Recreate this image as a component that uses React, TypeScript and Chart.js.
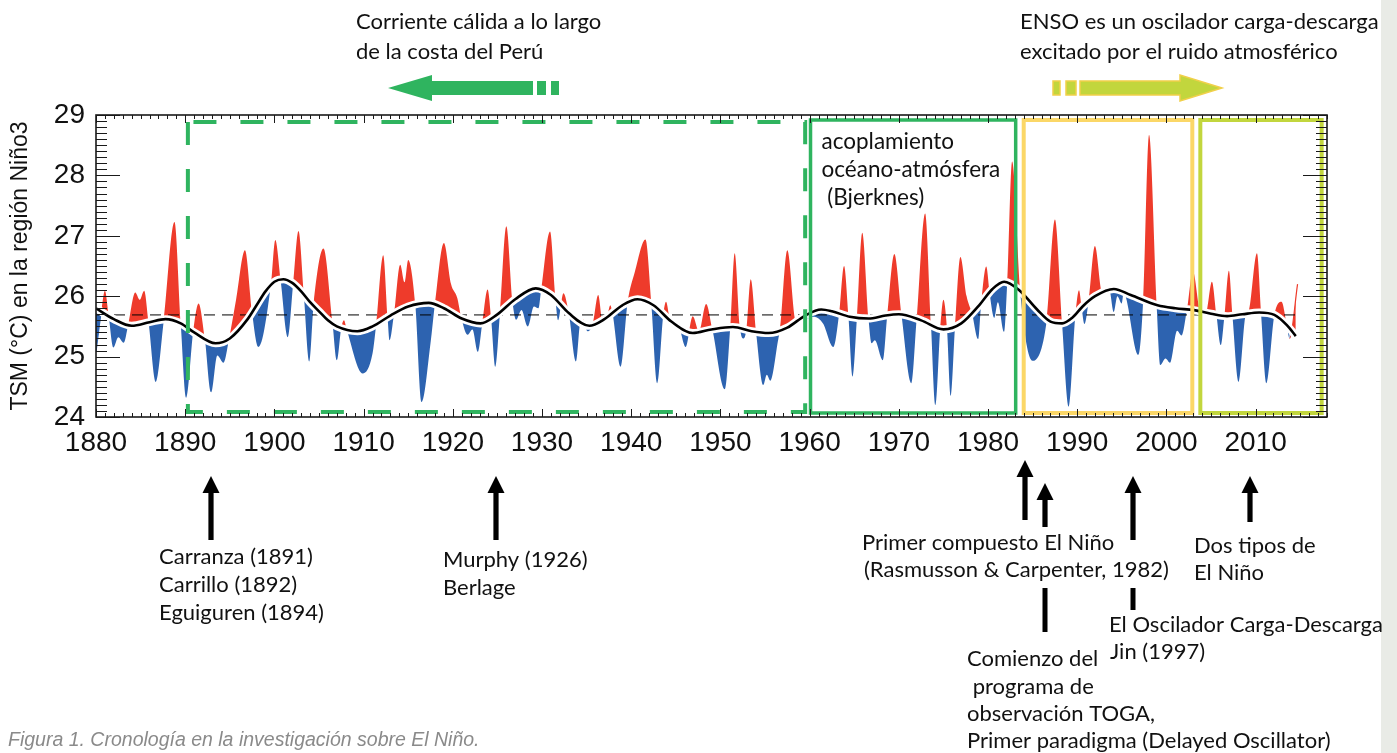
import React, { useEffect, useRef } from 'react';
import { Chart, registerables } from 'chart.js';

Chart.register(...registerables);

// ---------------- DATA ----------------
const tsmYears = [
  1880.0, 1880.6, 1881.0, 1881.4, 1881.95, 1882.5, 1883.1, 1883.6, 1884.4, 1884.9,
  1885.4, 1885.9, 1886.7, 1887.6, 1888.8, 1889.5, 1890.1, 1890.9, 1891.5, 1892.2,
  1892.9, 1893.6, 1894.3, 1894.9, 1895.7, 1896.7, 1897.5, 1898.2, 1899.6, 1900.1,
  1900.7, 1901.5, 1902.1, 1902.7, 1903.3, 1903.9, 1904.4, 1905.5, 1906.5, 1907.0,
  1907.5, 1907.8, 1908.1, 1909.9, 1911.0, 1911.4, 1912.2, 1912.7, 1912.9, 1913.4,
  1914.1, 1914.6, 1915.0, 1915.8, 1916.5, 1917.5, 1918.0, 1919.0, 1919.8, 1920.5,
  1920.9, 1921.65, 1922.2, 1922.8, 1923.3, 1923.9, 1924.3, 1924.75, 1925.3, 1926.0,
  1926.7, 1927.1, 1927.7, 1928.4, 1929.1, 1929.6, 1929.9, 1930.9, 1931.5, 1931.8,
  1932.4, 1933.0, 1933.8, 1934.3, 1934.6, 1935.1, 1935.7, 1936.3, 1936.8, 1937.3,
  1937.65, 1937.9, 1938.8, 1939.6, 1940.4, 1941.6, 1942.25, 1942.9, 1943.6, 1943.9,
  1944.4, 1945.2, 1946.1, 1946.9, 1947.6, 1948.4, 1949.1, 1950.5, 1951.1, 1951.6,
  1952.2, 1952.6, 1952.9, 1953.4, 1954.0, 1954.8, 1955.2, 1955.6, 1956.5, 1956.7,
  1957.5, 1958.5, 1959.5, 1960.5, 1961.5, 1962.66, 1963.3, 1963.86, 1964.35, 1964.8,
  1965.3, 1965.9, 1966.6, 1966.95, 1967.3, 1968.2, 1968.7, 1969.5, 1970.3, 1971.4,
  1972.0, 1972.95, 1973.6, 1974.1, 1974.65, 1975.0, 1975.4, 1975.8, 1976.3, 1976.9,
  1977.6, 1978.2, 1978.9, 1979.2, 1979.8, 1980.2, 1980.7, 1981.1, 1981.8, 1982.15,
  1982.7, 1983.6, 1985.0, 1986.6, 1987.5, 1988.3, 1989.05, 1989.8, 1990.2, 1990.5,
  1990.8, 1991.3, 1991.98, 1992.8, 1993.6, 1994.1, 1994.5, 1994.98, 1995.2, 1996.85,
  1997.4, 1998.05, 1998.9, 1999.3, 1999.9, 2000.4, 2001.2, 2001.7, 2002.3, 2002.97,
  2003.8, 2004.4, 2005.1, 2005.6, 2006.1, 2006.5, 2007.0, 2007.4, 2008.1, 2008.9,
  2009.2, 2010.15, 2010.6, 2011.2, 2012.1, 2012.9, 2013.5, 2013.8, 2014.7,
];
const tsmValues = [
  25.08, 25.76, 26.09, 25.70, 25.15, 25.32, 25.23, 25.52, 26.06, 25.94,
  26.09, 25.56, 24.58, 25.60, 27.23, 25.55, 24.32, 25.42, 25.88, 25.30,
  24.41, 25.02, 24.90, 25.28, 25.94, 26.76, 25.72, 25.16, 26.18, 26.93,
  26.26, 25.32, 26.20, 27.08, 26.02, 24.92, 25.88, 26.79, 25.58, 24.94,
  25.48, 25.60, 25.45, 24.72, 25.05, 25.52, 26.68, 25.62, 25.27, 25.70,
  26.52, 26.23, 26.60, 25.85, 24.25, 25.22, 25.88, 26.88, 26.20, 25.97,
  25.68, 25.36, 25.45, 25.08, 25.55, 26.11, 25.62, 24.83, 25.75, 27.16,
  25.90, 25.61, 25.77, 25.50, 25.83, 25.80, 26.10, 27.07, 25.97, 25.60,
  26.05, 25.72, 24.92, 25.58, 25.62, 25.42, 25.55, 26.02, 25.58, 25.66,
  25.85, 25.72, 24.83, 25.90, 26.40, 26.94, 25.88, 24.56, 25.70, 25.91,
  25.60, 25.56, 25.16, 25.67, 25.42, 25.87, 25.45, 24.46, 25.48, 26.71,
  25.47, 25.30, 25.44, 26.28, 25.40, 24.53, 24.70, 24.60, 25.30, 25.45,
  26.76, 25.58, 25.62, 25.66, 25.55, 25.16, 25.70, 26.50, 25.67, 24.67,
  25.64, 27.05, 25.63, 25.22, 25.27, 24.94, 25.68, 26.70, 25.69, 24.56,
  25.63, 27.37, 25.55, 24.20, 25.48, 25.94, 25.46, 24.35, 25.50, 26.65,
  26.00, 25.72, 25.29, 25.82, 26.49, 26.02, 25.64, 25.90, 25.41, 26.22,
  28.23, 26.08, 24.93, 25.62, 27.27, 25.55, 24.17, 25.70, 26.10, 25.80,
  25.54, 25.95, 26.83, 26.05, 26.10, 25.74, 26.00, 25.88, 26.05, 25.03,
  25.95, 28.67, 25.86, 24.86, 24.97, 24.90, 25.43, 25.35, 25.78, 26.41,
  25.75, 25.72, 26.24, 25.70, 25.19, 25.67, 26.42, 25.68, 24.58, 25.70,
  25.75, 26.71, 25.73, 24.56, 25.69, 25.91, 25.52, 25.30, 26.20,
];

const smoothYears = [
  1880, 1882, 1884, 1886, 1887.8, 1889.5, 1891, 1893.4, 1895, 1897,
  1898, 1899, 1900, 1901, 1902, 1903, 1904, 1905, 1906, 1907,
  1909.3, 1911, 1913, 1915, 1917.3, 1919, 1921, 1923.1, 1925, 1927,
  1929.3, 1931, 1933, 1935.3, 1937, 1939, 1940.7, 1942.5, 1944.5, 1946.9,
  1949, 1951.4, 1953.5, 1955.4, 1957.5, 1959.5, 1961.3, 1962.5, 1964.5, 1966.6,
  1968.5, 1970, 1972.5, 1975, 1977, 1979, 1980.5, 1981.8, 1983.5, 1985.5,
  1987, 1988.3, 1989.5, 1990.6, 1992, 1994.1, 1996, 1999, 2001, 2003.1,
  2005, 2006.8, 2008.5, 2010.4, 2012.1, 2013.5, 2014.5,
];
const smoothValues = [
  25.80, 25.62, 25.51, 25.57, 25.62, 25.55, 25.40, 25.22, 25.30, 25.62,
  25.85, 26.08, 26.24, 26.28, 26.22, 26.08, 25.90, 25.75, 25.60, 25.50,
  25.42, 25.50, 25.68, 25.83, 25.89, 25.80, 25.63, 25.55, 25.70, 25.95,
  26.13, 26.02, 25.72, 25.51, 25.62, 25.85, 25.95, 25.85, 25.58, 25.39,
  25.45, 25.49, 25.42, 25.39, 25.48, 25.68, 25.78, 25.75, 25.66, 25.63,
  25.68, 25.70, 25.60, 25.45, 25.55, 25.85, 26.12, 26.24, 26.10, 25.78,
  25.58, 25.55, 25.65, 25.83, 26.00, 26.12, 26.02, 25.85, 25.80, 25.77,
  25.71, 25.67, 25.70, 25.73, 25.69, 25.52, 25.34,
];

const meanYears = [1880, 2014.8];
const meanValue = 25.69;

const xTickValues = [1880, 1890, 1900, 1910, 1920, 1930, 1940, 1950, 1960, 1970, 1980, 1990, 2000, 2010];
const yTickValues = [24, 25, 26, 27, 28, 29];

// period boxes (years)
const dashedBoxYears = [1890.3, 1959.5];
const bjerknesBoxYears = [1960.1, 1983.1];
const rechargeBoxYears = [1984.0, 2002.9];
const twoTypesBoxYears = [2003.8, 2017.4];

const RED = '#ee3b2b';
const BLUE = '#2d63b0';
const GREEN = '#2fb45f';
const YELLOW = '#fbd767';
const LIME = '#c2d63d';
const TEXT_FONT = 'Lato, "Open Sans", sans-serif';

function upArrow(ctx: CanvasRenderingContext2D, x: number, tip: number, bottom: number) {
  const hw = 8.5, hh = 17, sw = 2.6;
  ctx.beginPath();
  ctx.moveTo(x, tip);
  ctx.lineTo(x + hw, tip + hh);
  ctx.lineTo(x + sw, tip + hh);
  ctx.lineTo(x + sw, bottom);
  ctx.lineTo(x - sw, bottom);
  ctx.lineTo(x - sw, tip + hh);
  ctx.lineTo(x - hw, tip + hh);
  ctx.closePath();
  ctx.fill();
}

const annotationPlugin = {
  id: 'ensoAnnotations',
  beforeDraw(chart: any) {
    const { ctx } = chart;
    ctx.save();
    ctx.fillStyle = '#ffffff';
    ctx.fillRect(0, 0, chart.width, chart.height);
    ctx.fillStyle = '#e9ebe6';
    ctx.fillRect(1381, 0, 16, chart.height);
    ctx.restore();
  },
  afterDatasetsDraw(chart: any) {
    const { ctx, chartArea: a, scales } = chart;
    const xs = scales.x;
    ctx.save();
    // dashed green box
    const d1 = xs.getPixelForValue(dashedBoxYears[0]);
    const d2 = xs.getPixelForValue(dashedBoxYears[1]);
    ctx.strokeStyle = GREEN;
    ctx.lineWidth = 4;
    ctx.setLineDash([23, 24]);
    ctx.beginPath();
    ctx.moveTo(d1, a.top + 7);
    ctx.lineTo(d1, a.bottom - 5);
    ctx.lineTo(d2, a.bottom - 5);
    ctx.lineTo(d2, a.top + 7);
    ctx.lineTo(d1, a.top + 7);
    ctx.stroke();
    ctx.setLineDash([]);

    const box = (yrs: number[], color: string, w: number) => {
      const x1 = xs.getPixelForValue(yrs[0]);
      const x2 = xs.getPixelForValue(yrs[1]);
      ctx.strokeStyle = color;
      ctx.lineWidth = w;
      ctx.strokeRect(x1, a.top + 5, x2 - x1, a.bottom - a.top - 9);
    };
    box(bjerknesBoxYears, GREEN, 3.5);
    box(rechargeBoxYears, YELLOW, 4);
    box(twoTypesBoxYears, LIME, 4);

    // text in Bjerknes box
    const bx = xs.getPixelForValue(bjerknesBoxYears[0]) + 11;
    ctx.fillStyle = '#111';
    ctx.font = `22.5px ${TEXT_FONT}`;
    ctx.textBaseline = 'middle';
    ctx.textAlign = 'left';
    ctx.fillText('acoplamiento', bx, 142);
    ctx.fillText('océano-atmósfera', bx, 170);
    ctx.fillText(' (Bjerknes)', bx, 198);

    // axis frame and inward ticks
    ctx.strokeStyle = '#1a1a1a';
    ctx.lineWidth = 1;
    ctx.beginPath();
    for (let yr = 1880; yr <= 2018; yr++) {
      const px = Math.round(xs.getPixelForValue(yr)) + 0.5;
      const len = yr % 10 === 0 ? 8 : 4;
      ctx.moveTo(px, a.bottom); ctx.lineTo(px, a.bottom - len);
      ctx.moveTo(px, a.top); ctx.lineTo(px, a.top + len);
    }
    const ys = scales.y;
    for (let k = 0; k <= 50; k++) {
      const v = 24 + k * 0.1;
      const py = Math.round(ys.getPixelForValue(v)) + 0.5;
      const len = k % 10 === 0 ? 24 : 11;
      ctx.moveTo(a.left, py); ctx.lineTo(a.left + len, py);
      ctx.moveTo(a.right, py); ctx.lineTo(a.right - len, py);
    }
    ctx.stroke();
    ctx.lineWidth = 1.6;
    ctx.strokeRect(a.left, a.top, a.right - a.left, a.bottom - a.top);
    ctx.restore();
  },
  afterDraw(chart: any) {
    const { ctx } = chart;
    ctx.save();
    ctx.fillStyle = '#111';
    ctx.textBaseline = 'middle';
    ctx.textAlign = 'left';
    ctx.font = `22px ${TEXT_FONT}`;
    const lines: [string, number, number][] = [
      ['Corriente cálida a lo largo', 356, 22],
      ['de la costa del Perú', 356, 52],
      ['ENSO es un oscilador carga-descarga', 1020, 22],
      ['excitado por el ruido atmosférico', 1020, 52],
      ['Carranza (1891)', 159, 557],
      ['Carrillo (1892)', 159, 585],
      ['Eguiguren (1894)', 159, 613],
      ['Murphy (1926)', 443, 560],
      ['Berlage', 443, 588],
      ['Primer compuesto El Niño', 862, 543],
      ['(Rasmusson & Carpenter, 1982)', 864, 570],
      ['Dos tipos de', 1194, 546],
      ['El Niño', 1194, 573],
      ['El Oscilador Carga-Descarga', 1109, 625],
      ['Jin (1997)', 1110, 652],
      ['Comienzo del', 967, 659],
      [' programa de', 967, 687],
      ['observación TOGA,', 967, 714],
      ['Primer paradigma (Delayed Oscillator)', 967, 741],
    ];
    lines.forEach(([t, x, y]) => ctx.fillText(t, x, y));

    // caption
    ctx.fillStyle = '#8a8a8a';
    ctx.font = 'italic 19.5px "Liberation Sans", Arial, sans-serif';
    ctx.fillText('Figura 1. Cronología en la investigación sobre El Niño.', 8, 741);

    // green arrow (pointing left)
    ctx.fillStyle = GREEN;
    ctx.beginPath();
    ctx.moveTo(388, 88);
    ctx.lineTo(432, 75);
    ctx.lineTo(432, 81);
    ctx.lineTo(533, 81);
    ctx.lineTo(533, 95);
    ctx.lineTo(432, 95);
    ctx.lineTo(432, 101);
    ctx.closePath();
    ctx.fill();
    ctx.fillRect(537, 81, 9, 14);
    ctx.fillRect(551, 81, 8, 14);

    // lime arrow (pointing right)
    ctx.fillStyle = LIME;
    ctx.strokeStyle = '#f1d04a';
    ctx.lineWidth = 1.5;
    ctx.beginPath();
    ctx.moveTo(1222, 88);
    ctx.lineTo(1180, 75);
    ctx.lineTo(1180, 81);
    ctx.lineTo(1080, 81);
    ctx.lineTo(1080, 95);
    ctx.lineTo(1180, 95);
    ctx.lineTo(1180, 101);
    ctx.closePath();
    ctx.fill();
    ctx.stroke();
    ctx.fillRect(1053, 81, 7, 14);
    ctx.strokeRect(1053, 81, 7, 14);
    ctx.fillRect(1066, 81, 10, 14);
    ctx.strokeRect(1066, 81, 10, 14);

    // black arrows
    ctx.fillStyle = '#000';
    upArrow(ctx, 211, 476, 540);
    upArrow(ctx, 496, 476, 540);
    upArrow(ctx, 1025, 460, 520);
    upArrow(ctx, 1045, 483, 527);
    upArrow(ctx, 1133, 476, 540);
    upArrow(ctx, 1250, 476, 522);
    ctx.fillRect(1042.5, 588, 5, 44);
    ctx.fillRect(1130.5, 588, 5, 22);
    ctx.restore();
  },
};

export default function App() {
  const canvasRef = useRef<HTMLCanvasElement | null>(null);

  useEffect(() => {
    if (!canvasRef.current) return;
    const tsmData = tsmYears.map((yr, i) => ({ x: yr, y: tsmValues[i] }));
    const smoothData = smoothYears.map((yr, i) => ({ x: yr, y: smoothValues[i] }));
    const meanData = meanYears.map((yr) => ({ x: yr, y: meanValue }));
    const n = tsmData.length;

    const chart = new Chart(canvasRef.current, {
      type: 'line',
      data: {
        datasets: [
          {
            label: 'TSM Niño3',
            data: tsmData,
            borderColor: 'rgba(0,0,0,0)',
            borderWidth: 1.2,
            pointRadius: 0,
            cubicInterpolationMode: 'monotone',
            fill: { target: 1, above: RED, below: BLUE },
            order: 4,
            segment: {
              borderColor: (c: any) =>
                c.p0DataIndex === 0 ? BLUE : c.p0DataIndex >= n - 2 ? RED : 'rgba(0,0,0,0)',
            },
          },
          {
            label: 'halo',
            data: smoothData,
            borderColor: '#ffffff',
            borderWidth: 8,
            pointRadius: 0,
            cubicInterpolationMode: 'monotone',
            fill: false,
            order: 2,
          },
          {
            label: 'suavizado',
            data: smoothData,
            borderColor: '#000000',
            borderWidth: 2.6,
            pointRadius: 0,
            cubicInterpolationMode: 'monotone',
            fill: false,
            order: 1,
          },
          {
            label: 'media',
            data: meanData,
            borderColor: '#000000',
            borderWidth: 1,
            borderDash: [11, 7],
            pointRadius: 0,
            fill: false,
            order: 3,
          },
        ],
      },
      options: {
        responsive: false,
        animation: false,
        devicePixelRatio: 1,
        events: [],
        layout: { padding: { left: 0, right: 70, top: 115, bottom: 300 } },
        plugins: {
          legend: { display: false },
          tooltip: { enabled: false },
        },
        scales: {
          x: {
            type: 'linear',
            min: 1880,
            max: 2018,
            grid: { display: false, drawTicks: false },
            border: { display: false },
            afterBuildTicks: (s: any) => {
              s.ticks = xTickValues.map((v) => ({ value: v }));
            },
            ticks: {
              autoSkip: false,
              maxRotation: 0,
              padding: 9,
              color: '#111',
              font: { family: '"Liberation Sans", Arial, sans-serif', size: 28 },
              callback: (v: any) => String(v),
            },
            afterFit: (s: any) => {
              s.height = 36;
            },
          },
          y: {
            type: 'linear',
            min: 24,
            max: 29,
            grid: { display: false, drawTicks: false },
            border: { display: false },
            afterBuildTicks: (s: any) => {
              s.ticks = yTickValues.map((v) => ({ value: v }));
            },
            ticks: {
              padding: 11,
              color: '#111',
              font: { family: '"Liberation Sans", Arial, sans-serif', size: 28 },
              callback: (v: any) => String(v),
            },
            title: {
              display: true,
              text: 'TSM (°C) en la región Niño3',
              color: '#111',
              font: { family: '"Liberation Sans", Arial, sans-serif', size: 23 },
              padding: { top: 7, bottom: 0 },
            },
            afterFit: (s: any) => {
              s.width = 96;
            },
          },
        },
      },
      plugins: [annotationPlugin],
    } as any);

    return () => chart.destroy();
  }, []);

  return (
    <div style={{ position: 'absolute', left: 0, top: 0, width: 1397, height: 753, background: '#fff' }}>
      <canvas ref={canvasRef} width={1397} height={753} style={{ display: 'block' }} />
    </div>
  );
}
